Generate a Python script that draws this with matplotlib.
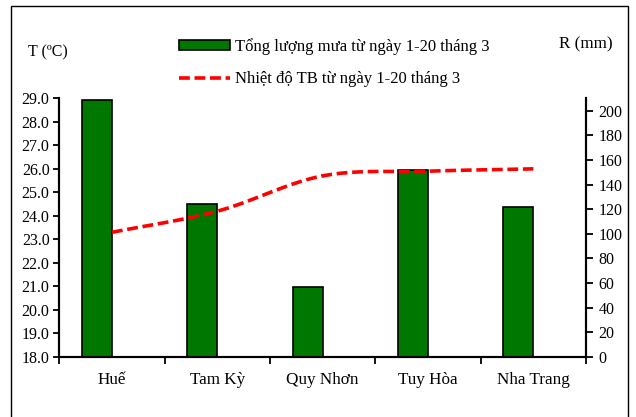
import numpy as np
import matplotlib
matplotlib.use("Agg")
import matplotlib.pyplot as plt
from matplotlib.patches import Rectangle
from matplotlib.lines import Line2D

plt.rcParams['font.family'] = ['Liberation Serif', 'DejaVu Serif']

# data
stations = ["Huế", "Tam Kỳ", "Quy Nhơn", "Tuy Hòa", "Nha Trang"]
rain_mm = [209, 124, 57, 152, 122]
temp_c = [23.3, 24.2, 25.7, 25.9, 26.0]
temp_ticks = np.arange(18, 29.5, 1.0)
rain_ticks = np.arange(0, 201, 20)

bar_label = "Tổng lượng mưa từ ngày 1-20 tháng 3"
line_label = "Nhiệt độ TB từ ngày 1-20 tháng 3"

GREEN = "#007800"
RED = "#ff0000"


def catmull_rom(xs, ys, n=30):
    # smooth curve through the points (like Excel's smoothed line)
    xs = np.asarray(xs, float)
    ys = np.asarray(ys, float)
    px = np.concatenate([[2 * xs[0] - xs[1]], xs, [2 * xs[-1] - xs[-2]]])
    py = np.concatenate([[2 * ys[0] - ys[1]], ys, [2 * ys[-1] - ys[-2]]])
    out_x, out_y = [], []
    t = np.linspace(0, 1, n)
    for i in range(1, len(px) - 2):
        for p, out in ((px, out_x), (py, out_y)):
            p0, p1, p2, p3 = p[i - 1], p[i], p[i + 1], p[i + 2]
            out.append(0.5 * (2 * p1 + (-p0 + p2) * t
                              + (2 * p0 - 5 * p1 + 4 * p2 - p3) * t ** 2
                              + (-p0 + 3 * p1 - 3 * p2 + p3) * t ** 3))
    return np.concatenate(out_x), np.concatenate(out_y)


fig = plt.figure(figsize=(6.36, 4.17), dpi=100)
ax = fig.add_axes([0.0932, 0.1439, 0.8282, 0.6204])
ax2 = ax.twinx()

x = np.arange(len(stations))
bar_w = 0.285
ax2.bar(x - bar_w / 2, rain_mm, width=bar_w, color=GREEN,
        edgecolor="black", linewidth=1.2)

sx, sy = catmull_rom(x, temp_c)
ax.plot(sx, sy, color=RED, linewidth=2.6, dashes=(3.0, 1.3))

# temperature line on top of the bars
ax.set_zorder(ax2.get_zorder() + 1)
ax.patch.set_visible(False)

ax.set_xlim(-0.5, len(stations) - 0.5)
ax.set_ylim(18, 29)
ax.set_yticks(temp_ticks)
ax.set_yticklabels([f"{v:.1f}" for v in temp_ticks])
ax2.set_ylim(0, 210)
ax2.set_yticks(rain_ticks)

ax.set_xticks(x)
ax.set_xticklabels(stations, fontsize=12.3)
ax.set_xticks(np.arange(-0.5, len(stations)), minor=True)
ax.tick_params(axis='x', which='major', length=0, pad=11)
ax.tick_params(axis='x', which='minor', length=5, width=1.3, direction='out')
ax.tick_params(axis='y', labelsize=11.5, length=4, width=1.3, pad=3)
ax2.tick_params(axis='y', labelsize=11.5, length=5, width=1.3, pad=4)

for a in (ax, ax2):
    a.spines['top'].set_visible(False)
    for s in ('left', 'right', 'bottom'):
        a.spines[s].set_linewidth(1.5)

fig.text(28 / 636, 1 - 52 / 417, "T (ºC)", fontsize=11.5, va='center', ha='left')
fig.text(613 / 636, 1 - 44 / 417, "R (mm)", fontsize=12.3, va='center', ha='right')

handles = [Rectangle((0, 0), 1, 1, facecolor=GREEN, edgecolor="black", linewidth=1.2),
           Line2D([], [], color=RED, linewidth=2.6, dashes=(3.0, 1.3))]
fig.legend(handles, [bar_label, line_label], loc='upper left',
           bbox_to_anchor=(172 / 636, 1 - 31 / 417), frameon=False,
           fontsize=12, handlelength=3.1, handleheight=0.55, handletextpad=0.3,
           labelspacing=1.0, borderaxespad=0)

# outer chart frame
fig.patches.append(Rectangle((11 / 636, -0.05), 617 / 636, 1.05 - 6 / 417,
                             transform=fig.transFigure, fill=False,
                             edgecolor="black", linewidth=1.0))

fig.savefig("out.png", dpi=100)
